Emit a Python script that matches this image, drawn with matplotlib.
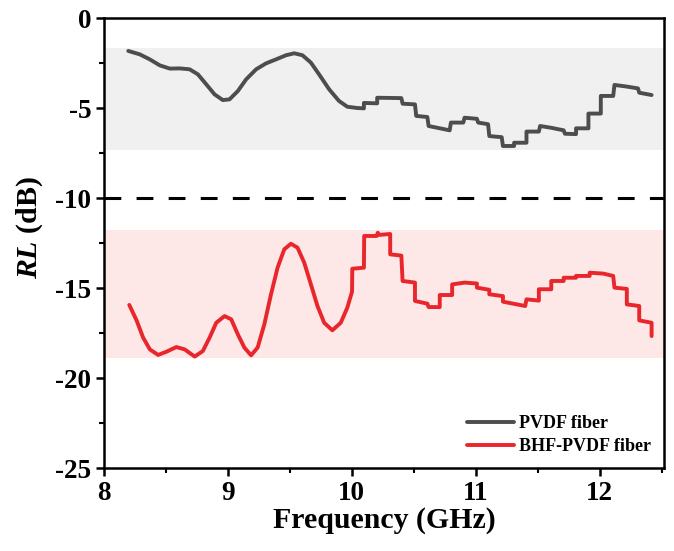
import numpy as np
import matplotlib
matplotlib.use("Agg")
import matplotlib.pyplot as plt

# ----------------------------
# Data
# ----------------------------
pvdf_freq = [8.196, 8.289, 8.370, 8.450, 8.531, 8.611, 8.691, 8.758, 8.826, 8.892, 8.959,
             9.013, 9.080, 9.147, 9.228, 9.308, 9.388, 9.469, 9.535, 9.602, 9.670,
             9.736, 9.817, 9.897, 9.964, 10.044, 10.098,
             10.098, 10.205, 10.205, 10.40, 10.41, 10.51, 10.52, 10.61, 10.62, 10.79,
             10.80, 10.90, 10.91, 11.01, 11.02, 11.10, 11.11, 11.21, 11.22, 11.31,
             11.31, 11.41, 11.41, 11.51, 11.52, 11.61, 11.71, 11.72, 11.81, 11.81,
             11.91, 11.91, 12.01, 12.01, 12.11, 12.12, 12.21, 12.31, 12.32, 12.42]
pvdf_rl = [-1.83, -2.02, -2.30, -2.63, -2.81, -2.80, -2.85, -3.13, -3.69, -4.24, -4.56,
           -4.52, -4.06, -3.41, -2.85, -2.52, -2.30, -2.07, -1.96, -2.07, -2.48,
           -3.13, -3.96, -4.61, -4.93, -5.00, -5.02,
           -4.72, -4.74, -4.43, -4.45, -4.76, -4.80, -5.44, -5.50, -6.00, -6.24,
           -5.81, -5.81, -5.54, -5.60, -5.81, -5.90, -6.56, -6.62, -7.11, -7.11,
           -6.93, -6.93, -6.31, -6.31, -6.00, -6.10, -6.24, -6.43, -6.45, -6.13,
           -6.13, -5.31, -5.31, -4.33, -4.33, -3.72, -3.80, -3.91, -4.15, -4.28]

bhf_freq = [8.204, 8.263, 8.316, 8.370, 8.437, 8.504, 8.584, 8.651, 8.732, 8.798, 8.852,
            8.906, 8.973, 9.027, 9.080, 9.133, 9.187, 9.240, 9.294, 9.348, 9.401,
            9.455, 9.509, 9.562, 9.616, 9.670, 9.723, 9.777, 9.843, 9.911, 9.964, 10.002,
            10.004, 10.098, 10.100, 10.20, 10.21, 10.22, 10.31, 10.31, 10.40, 10.41,
            10.51, 10.51, 10.61, 10.62, 10.71, 10.71, 10.81, 10.81, 10.91, 11.01,
            11.01, 11.11, 11.11, 11.22, 11.22, 11.40, 11.41, 11.51, 11.51, 11.61,
            11.61, 11.71, 11.71, 11.81, 11.81, 11.92, 11.92, 12.03, 12.11, 12.12,
            12.22, 12.22, 12.32, 12.32, 12.42, 12.42]
bhf_rl = [-15.94, -16.80, -17.76, -18.41, -18.72, -18.54, -18.28, -18.41, -18.81, -18.50, -17.76,
          -16.93, -16.56, -16.74, -17.57, -18.31, -18.74, -18.31, -17.02, -15.35, -13.87,
          -12.85, -12.54, -12.76, -13.59, -14.80, -16.00, -16.93, -17.35, -16.93, -16.09, -15.20,
          -13.93, -13.87, -12.11, -12.11, -11.93, -12.05, -12.00, -13.13, -13.20, -14.61,
          -14.70, -15.72, -15.87, -16.06, -16.06, -15.39, -15.39, -14.80, -14.70, -14.75,
          -14.98, -15.10, -15.35, -15.45, -15.76, -16.00, -15.63, -15.70, -15.07, -15.07,
          -14.61, -14.61, -14.43, -14.43, -14.33, -14.33, -14.15, -14.20, -14.33, -14.98,
          -15.05, -15.91, -16.00, -16.80, -16.93, -17.67]

gray_band = (-7.35, -1.65)
red_band = (-18.9, -11.78)
threshold = -10

# ----------------------------
# Plot
# ----------------------------
plt.rcParams["font.family"] = ["Liberation Serif", "DejaVu Serif"]
plt.rcParams["font.weight"] = "bold"
plt.rcParams["axes.unicode_minus"] = False
plt.rcParams["mathtext.fontset"] = "custom"
plt.rcParams["mathtext.bfit"] = "Liberation Serif:italic:bold"
plt.rcParams["mathtext.it"] = "Liberation Serif:italic:bold"

fig = plt.figure(figsize=(6.74, 5.51), dpi=100)
ax = fig.add_axes([104 / 674, 1 - 468 / 551, 560 / 674, 450 / 551])

ax.axhspan(gray_band[0], gray_band[1], color="#f0f0f0", lw=0, zorder=0)
ax.axhspan(red_band[0], red_band[1], color="#fde7e7", lw=0, zorder=0)
ax.axhline(threshold, color="black", lw=2.2, ls=(0, (5.5, 5)), zorder=1)

ax.plot(pvdf_freq, pvdf_rl, color="#4d4d4d", lw=2.8, label="PVDF fiber",
        solid_joinstyle="round", solid_capstyle="round", zorder=3)
ax.plot(bhf_freq, bhf_rl, color="#e8262b", lw=2.8, label="BHF-PVDF fiber",
        solid_joinstyle="round", solid_capstyle="round", zorder=3)

ax.set_xlim(8, 12.52)
ax.set_ylim(-25, 0)
ax.set_xticks([8, 9, 10, 11, 12])
ax.set_xticks(np.arange(8.5, 12.6, 1.0), minor=True)
ax.set_yticks([0, -5, -10, -15, -20, -25])
ax.set_yticks(np.arange(-22.5, 0, 5.0), minor=True)

for s in ax.spines.values():
    s.set_linewidth(1.8)
ax.tick_params(which="major", direction="out", length=6, width=1.8, labelsize=19.5, pad=3)
ax.tick_params(which="minor", direction="out", length=3.5, width=1.5)

ax.set_xlabel("Frequency (GHz)", fontsize=21.5, fontweight="bold", labelpad=1)
ax.set_ylabel("$\\mathit{RL}$ (dB)", fontsize=21.5, fontweight="bold")
ax.yaxis.set_label_coords(-0.106, 0.534)

leg = ax.legend(loc="lower right", frameon=False, prop={"size": 13, "weight": "bold"},
                handlelength=2.6, handletextpad=0.3, labelspacing=0.35,
                borderaxespad=0.3)

fig.savefig("out.png", dpi=100)
